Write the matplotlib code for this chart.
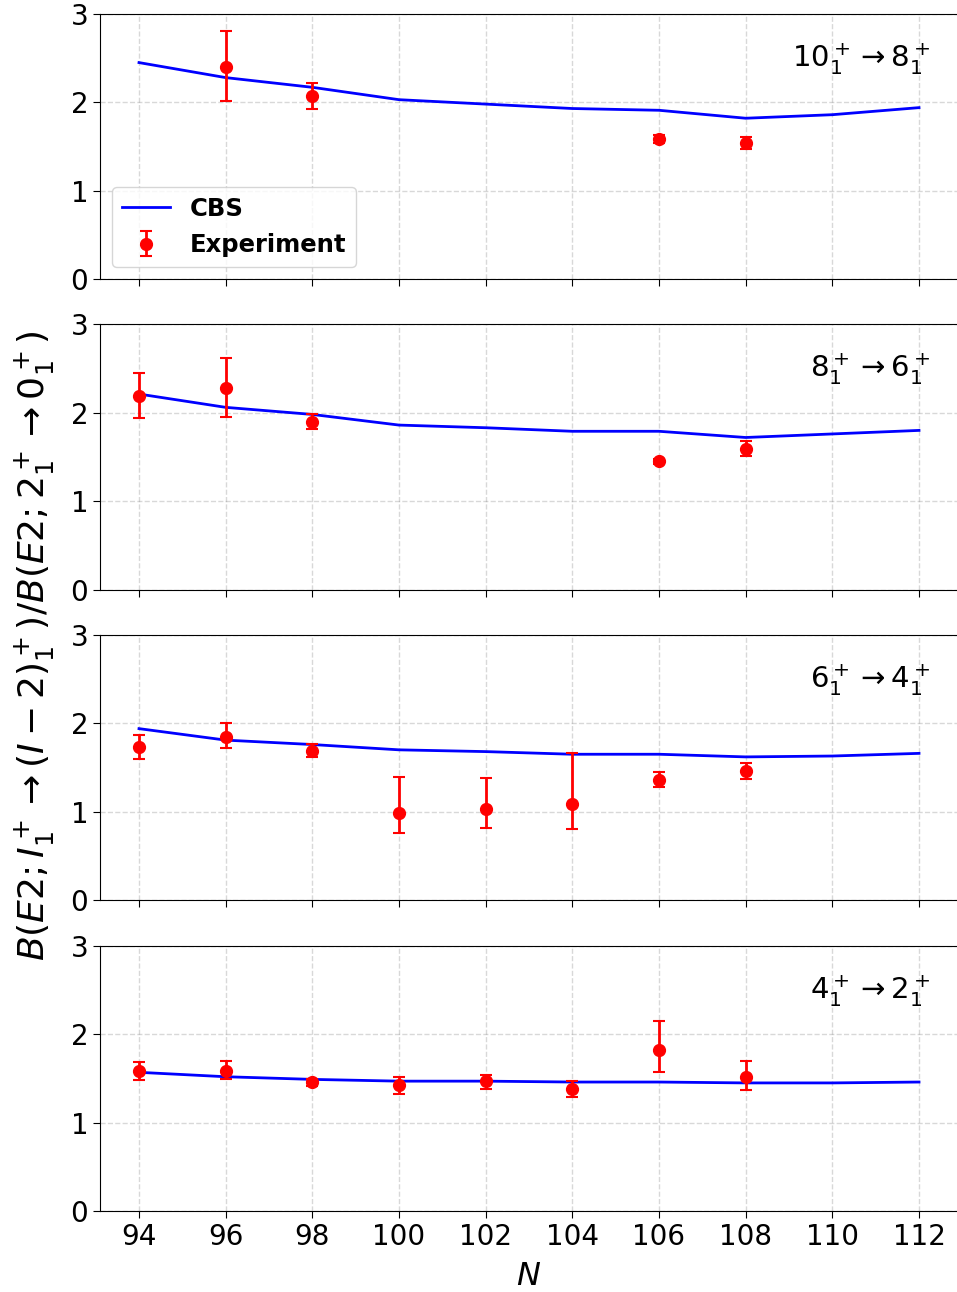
import numpy as np
import matplotlib
matplotlib.use('Agg')
import matplotlib.pyplot as plt

# neutron number
N_cbs = [94, 96, 98, 100, 102, 104, 106, 108, 110, 112]

# CBS model ratios, one list per transition
cbs_10_8 = [2.45, 2.28, 2.17, 2.03, 1.98, 1.93, 1.91, 1.82, 1.86, 1.94]
cbs_8_6 = [2.21, 2.06, 1.98, 1.86, 1.83, 1.79, 1.79, 1.72, 1.76, 1.80]
cbs_6_4 = [1.94, 1.81, 1.76, 1.70, 1.68, 1.65, 1.65, 1.62, 1.63, 1.66]
cbs_4_2 = [1.57, 1.52, 1.49, 1.47, 1.47, 1.46, 1.46, 1.45, 1.45, 1.46]

# experiment: N, value, lower error, upper error
N_10_8 = [96, 98, 106, 108]
exp_10_8 = [2.40, 2.07, 1.585, 1.54]
lo_10_8 = [0.38, 0.14, 0.05, 0.07]
hi_10_8 = [0.41, 0.15, 0.05, 0.07]

N_8_6 = [94, 96, 98, 106, 108]
exp_8_6 = [2.19, 2.28, 1.89, 1.45, 1.59]
lo_8_6 = [0.25, 0.33, 0.07, 0.03, 0.08]
hi_8_6 = [0.26, 0.34, 0.09, 0.03, 0.09]

N_6_4 = [94, 96, 98, 100, 102, 104, 106, 108]
exp_6_4 = [1.73, 1.85, 1.69, 0.98, 1.03, 1.09, 1.36, 1.46]
lo_6_4 = [0.13, 0.13, 0.07, 0.22, 0.21, 0.29, 0.08, 0.09]
hi_6_4 = [0.14, 0.15, 0.08, 0.41, 0.35, 0.57, 0.09, 0.09]

N_4_2 = [94, 96, 98, 100, 102, 104, 106, 108]
exp_4_2 = [1.585, 1.585, 1.46, 1.43, 1.47, 1.38, 1.82, 1.52]
lo_4_2 = [0.10, 0.09, 0.04, 0.11, 0.09, 0.09, 0.25, 0.15]
hi_4_2 = [0.10, 0.11, 0.04, 0.09, 0.07, 0.09, 0.33, 0.18]

labels = [r'$10_1^+ \rightarrow 8_1^+$', r'$8_1^+ \rightarrow 6_1^+$',
          r'$6_1^+ \rightarrow 4_1^+$', r'$4_1^+ \rightarrow 2_1^+$']

panels = [
    (cbs_10_8, N_10_8, exp_10_8, lo_10_8, hi_10_8),
    (cbs_8_6, N_8_6, exp_8_6, lo_8_6, hi_8_6),
    (cbs_6_4, N_6_4, exp_6_4, lo_6_4, hi_6_4),
    (cbs_4_2, N_4_2, exp_4_2, lo_4_2, hi_4_2),
]

W, H = 957, 1292
fig = plt.figure(figsize=(W / 100, H / 100), dpi=100)

tops = [14, 324, 635, 946]
bots = [279, 590, 900, 1211]
left, right = 100, 958

axes = []
for i in range(4):
    rect = [left / W, 1 - bots[i] / H, (right - left) / W, (bots[i] - tops[i]) / H]
    if i == 0:
        ax = fig.add_axes(rect)
    else:
        ax = fig.add_axes(rect, sharex=axes[0])
    axes.append(ax)

for i, ax in enumerate(axes):
    cbs, n_e, y_e, lo, hi = panels[i]
    ax.plot(N_cbs, cbs, color='blue', lw=2, label='CBS')
    ax.errorbar(n_e, y_e, yerr=[lo, hi], fmt='o', color='red', ms=8.5,
                capsize=4, elinewidth=2, capthick=1.5, label='Experiment')
    ax.set_ylim(0, 3)
    ax.set_yticks([0, 1, 2, 3])
    ax.grid(True, ls='--', color='gray', alpha=0.3, lw=1)
    ax.tick_params(labelsize=20, length=5)
    ax.text(0.968, 0.83, labels[i], transform=ax.transAxes, ha='right',
            va='center', fontsize=21)
    if i < 3:
        ax.tick_params(labelbottom=False)

axes[0].set_xticks(np.arange(94, 113, 2))
axes[0].legend(loc='lower left', prop={'weight': 'bold', 'size': 17.5})
axes[3].set_xlabel(r'$N$', fontsize=23, labelpad=7)

fig.text(0.036, 0.5,
         r'$B(E2; I_1^+ \rightarrow (I-2)_1^+)/B(E2; 2_1^+ \rightarrow 0_1^+)$',
         rotation=90, ha='center', va='center', fontsize=26)

plt.savefig('out.png', dpi=100)
